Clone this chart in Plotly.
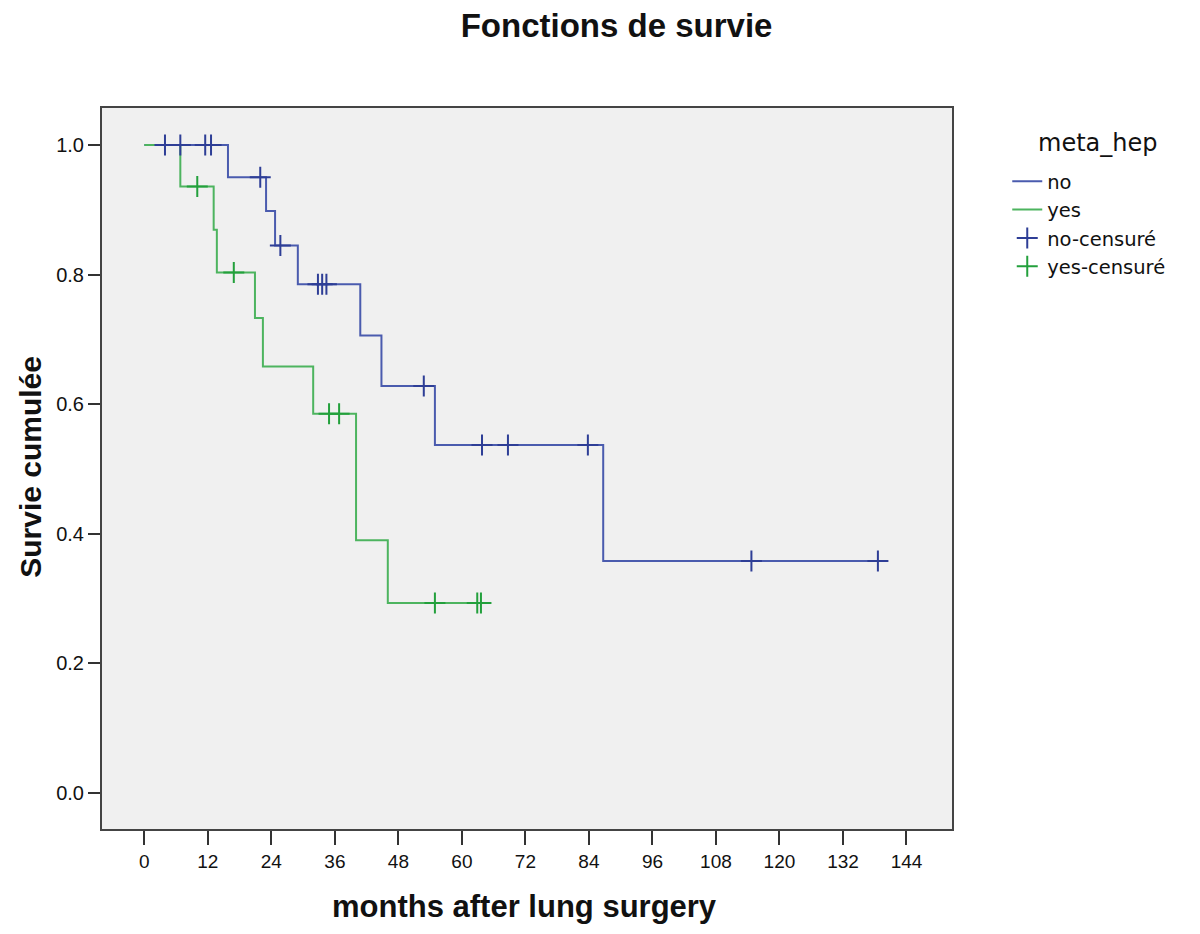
import plotly.graph_objects as go

# ---- data ----
no_times = [0, 15.8, 23.0, 24.7, 29.0, 40.8, 44.8, 54.9, 86.7]
no_surv = [1.0, 0.950, 0.898, 0.845, 0.785, 0.706, 0.628, 0.537, 0.358]
no_end = 138.6
no_censored = [3.9, 6.8, 11.5, 12.6, 21.9, 25.7, 32.8, 33.6, 34.4, 52.8,
               63.8, 68.7, 83.8, 114.7, 138.6]

yes_times = [0, 6.8, 13.1, 13.7, 20.9, 22.4, 31.9, 40.0, 46.0]
yes_surv = [1.0, 0.936, 0.869, 0.803, 0.733, 0.658, 0.585, 0.390, 0.293]
yes_end = 64.0
yes_censored = [10.0, 16.9, 34.9, 36.8, 54.9, 62.9, 63.6]

x_ticks = [0, 12, 24, 36, 48, 60, 72, 84, 96, 108, 120, 132, 144]
y_ticks = [0.0, 0.2, 0.4, 0.6, 0.8, 1.0]

BLUE = "#4A5BAE"
BLUE_D = "#2E3E96"
GREEN = "#4DB45F"
GREEN_D = "#23A03C"


def surv_at(times, surv, t):
    val = surv[0]
    for ti, si in zip(times, surv):
        if ti <= t:
            val = si
    return val


fig = go.Figure()

fig.add_trace(go.Scatter(
    x=no_times + [no_end], y=no_surv + [no_surv[-1]],
    mode="lines", line=dict(shape="hv", color=BLUE, width=2), name="no"))
fig.add_trace(go.Scatter(
    x=yes_times + [yes_end], y=yes_surv + [yes_surv[-1]],
    mode="lines", line=dict(shape="hv", color=GREEN, width=2), name="yes"))
fig.add_trace(go.Scatter(
    x=no_censored, y=[surv_at(no_times, no_surv, t) for t in no_censored],
    mode="markers", name="no-censuré",
    marker=dict(symbol="cross-thin", size=15, line=dict(color=BLUE_D, width=2))))
fig.add_trace(go.Scatter(
    x=yes_censored, y=[surv_at(yes_times, yes_surv, t) for t in yes_censored],
    mode="markers", name="yes-censuré",
    marker=dict(symbol="cross-thin", size=15, line=dict(color=GREEN_D, width=2))))

FONT = "Liberation Sans, Arial, sans-serif"
LFONT = "DejaVu Sans, Liberation Sans, sans-serif"

fig.update_layout(
    width=1184, height=918,
    margin=dict(l=94, r=240, t=100, b=97),
    paper_bgcolor="white", plot_bgcolor="#F0F0F0",
    font=dict(family=FONT, color="#111"),
    title=dict(text="<b>Fonctions de survie</b>", x=0.514, y=0.9815,
               xanchor="center", yanchor="middle", xref="container", yref="container",
               font=dict(size=33, family=FONT, color="#111")),
    showlegend=True,
    legend=dict(x=1.065, y=0.925, xanchor="left", yanchor="top",
                bgcolor="rgba(0,0,0,0)", font=dict(size=19.5, family=LFONT, color="#111"),
                tracegroupgap=0, itemwidth=30),
)

fig.update_xaxes(range=[-8, 152.6], tickvals=x_ticks, ticktext=[str(v) for v in x_ticks],
                 ticks="outside", ticklen=14, tickwidth=2, tickcolor="#333",
                 showline=True, mirror=True, linecolor="#444", linewidth=2,
                 showgrid=False, zeroline=False,
                 tickfont=dict(size=19, family=FONT, color="#111"))
fig.update_yaxes(range=[-0.0556, 1.057], tickvals=y_ticks,
                 ticktext=[f"{v:.1f}" for v in y_ticks],
                 ticks="outside", ticklen=12, tickwidth=2, tickcolor="#333",
                 showline=True, mirror=True, linecolor="#444", linewidth=2,
                 showgrid=False, zeroline=False,
                 tickfont=dict(size=20, family=FONT, color="#111"))

fig.add_annotation(text="meta_hep", xref="paper", yref="paper",
                   x=(1089 - 94) / 850, y=(821 - 135) / 721, xanchor="center", yanchor="middle",
                   showarrow=False, font=dict(size=24, family=LFONT, color="#111"))
fig.add_annotation(text="<b>months after lung surgery</b>", xref="paper", yref="paper",
                   x=0.497, y=-0.108, xanchor="center", yanchor="middle", showarrow=False,
                   font=dict(size=31, family=FONT, color="#111"))
fig.add_annotation(text="<b>Survie cumulée</b>", xref="paper", yref="paper",
                   x=-0.085, y=0.502, xanchor="center", yanchor="middle", showarrow=False,
                   textangle=-90, font=dict(size=30, family=FONT, color="#111"))

fig.write_html("out.html")
